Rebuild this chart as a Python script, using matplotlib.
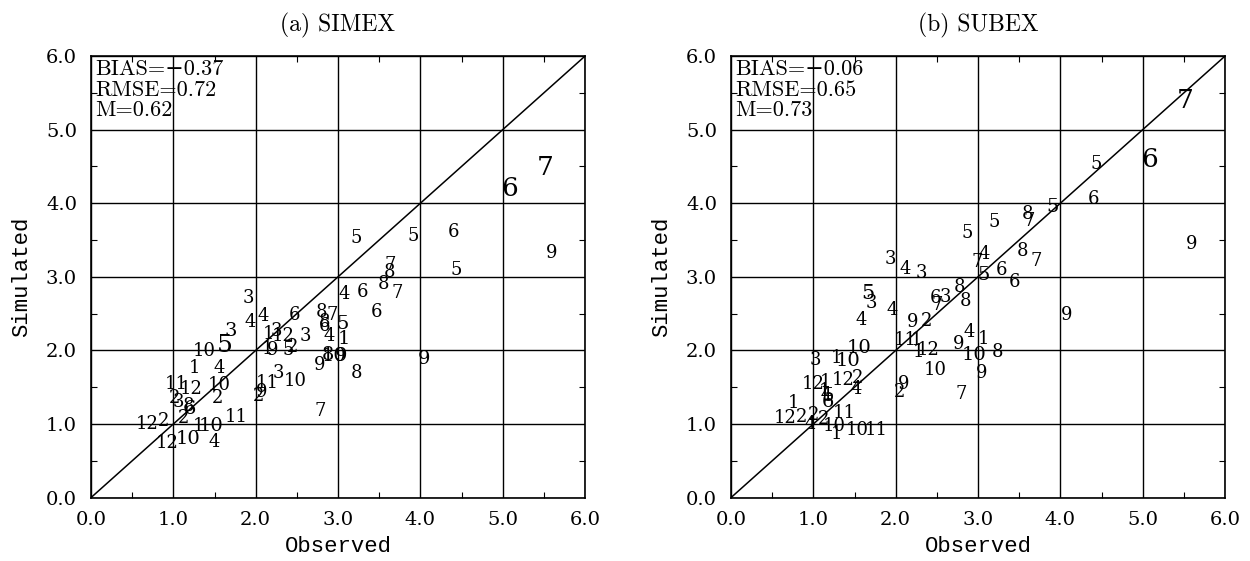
import matplotlib
matplotlib.use("Agg")
import matplotlib.pyplot as plt
from matplotlib.ticker import MultipleLocator, FormatStrFormatter

# ---------------- data ----------------
titles = ["(a) SIMEX", "(b) SUBEX"]
stats = [["BIAS=\u22120.37", "RMSE=0.72", "M=0.62"],
         ["BIAS=\u22120.06", "RMSE=0.65", "M=0.73"]]

simex_labels = ["10", "5", "3", "1", "4", "11", "12", "10", "2", "2", "3", "8", "6",
                "12", "2", "2", "1", "10", "11", "12", "10", "4",
                "3", "4", "4", "6", "8", "7", "5", "1", "4", "6", "8", "3",
                "1", "3", "12", "1", "9", "5", "2",
                "9", "8", "10", "9", "8", "3", "11", "10", "9", "2", "7", "9",
                "4", "6", "6", "8", "7", "7", "8",
                "5", "5", "6", "5", "9", "6", "7"]
simex_x = [1.38, 1.63, 1.70, 1.26, 1.56, 1.04, 1.22, 1.56, 1.54, 1.02, 1.06, 1.18, 1.20,
           0.68, 0.88, 1.12, 1.30, 1.46, 1.76, 0.92, 1.18, 1.50,
           1.91, 2.09, 1.93, 2.47, 2.80, 2.93, 3.06, 3.07, 2.89, 2.84, 2.84, 2.60,
           2.15, 2.25, 2.33, 2.14, 2.20, 2.40, 2.45,
           2.78, 2.88, 2.95, 3.04, 3.23, 2.28, 2.14, 2.48, 2.07, 2.03, 2.78, 4.05,
           3.08, 3.30, 3.47, 3.55, 3.72, 3.63, 3.63,
           3.22, 3.91, 4.40, 4.44, 5.60, 5.09, 5.52]
simex_y = [1.99, 2.07, 2.27, 1.76, 1.76, 1.55, 1.48, 1.53, 1.36, 1.36, 1.30, 1.25, 1.20,
           1.00, 1.04, 1.08, 0.97, 0.97, 1.10, 0.74, 0.79, 0.76,
           2.71, 2.47, 2.38, 2.48, 2.52, 2.48, 2.36, 2.16, 2.20, 2.33, 2.38, 2.20,
           2.22, 2.27, 2.20, 2.02, 2.00, 2.00, 2.05,
           1.80, 1.94, 1.93, 1.93, 1.70, 1.70, 1.56, 1.58, 1.44, 1.38, 1.18, 1.88,
           2.77, 2.80, 2.52, 2.90, 2.78, 3.16, 3.07,
           3.53, 3.56, 3.61, 3.09, 3.32, 4.20, 4.49]
simex_size = [13, 18, 14, 13, 13, 13, 13, 13, 13, 13, 13, 13, 14,
              13, 13, 13, 13, 14, 13, 13, 14, 13,
              13, 13, 13, 13, 13, 13, 14, 14, 13, 13, 13, 13,
              13, 13, 13, 13, 13, 13, 13,
              13, 14, 14, 14, 13, 13, 13, 13, 13, 13, 13, 14,
              13, 13, 13, 13, 13, 13, 13,
              13, 13, 13, 13, 13, 19, 19]

subex_labels = ["7", "6", "5", "6", "5", "8", "7", "5", "5", "8", "7", "4", "7", "5",
                "6", "6", "8", "8", "3", "6", "7", "9", "9",
                "3", "4", "3", "5", "3", "4", "4", "9", "2", "11", "1", "1", "12",
                "9", "4", "1", "10", "8", "10", "9", "9", "2", "7",
                "10", "3", "1", "10", "12", "1", "12", "2", "4",
                "1", "4", "5", "6", "1", "12", "2", "2", "4", "2",
                "11", "10", "1", "10", "11"]
subex_x = [5.52, 5.09, 4.43, 4.40, 3.90, 3.60, 3.62, 3.20, 2.87, 3.54, 3.71, 3.08, 2.99, 3.07,
           3.28, 3.44, 2.78, 2.85, 2.60, 2.48, 2.51, 5.60, 4.08,
           1.93, 2.11, 2.31, 1.66, 1.70, 1.96, 1.58, 2.20, 2.38, 2.12, 2.25, 2.28, 2.40,
           2.77, 2.89, 3.07, 2.95, 3.24, 2.48, 3.05, 2.10, 2.05, 2.80,
           1.56, 1.03, 1.28, 1.42, 1.00, 1.15, 1.36, 1.54, 1.52,
           1.14, 1.16, 1.18, 1.18, 0.76, 0.66, 0.86, 1.00, 0.96, 1.12,
           1.38, 1.26, 1.28, 1.53, 1.77]
subex_y = [5.39, 4.60, 4.53, 4.06, 3.95, 3.86, 3.76, 3.75, 3.60, 3.35, 3.22, 3.31, 3.20, 3.02,
           3.09, 2.93, 2.86, 2.67, 2.73, 2.71, 2.62, 3.45, 2.48,
           3.24, 3.10, 3.05, 2.77, 2.64, 2.55, 2.41, 2.38, 2.40, 2.14, 2.14, 1.98, 2.00,
           2.09, 2.25, 2.16, 1.94, 1.98, 1.73, 1.70, 1.55, 1.44, 1.41,
           2.03, 1.87, 1.90, 1.85, 1.55, 1.57, 1.60, 1.62, 1.48,
           1.45, 1.40, 1.38, 1.30, 1.28, 1.08, 1.10, 1.12, 1.00, 1.07,
           1.15, 0.97, 0.86, 0.92, 0.92]
subex_size = [19, 19, 13, 13, 14, 13, 13, 13, 13, 13, 13, 13, 13, 14,
              13, 13, 13, 13, 13, 13, 13, 13, 13,
              13, 13, 13, 15, 13, 13, 13, 13, 13, 13, 13, 13, 13,
              13, 13, 13, 14, 13, 13, 13, 13, 13, 13,
              14, 13, 13, 14, 13, 13, 13, 13, 13,
              13, 13, 13, 14, 13, 13, 13, 13, 13, 13,
              13, 13, 13, 13, 13]

panels = [(simex_labels, simex_x, simex_y, simex_size),
          (subex_labels, subex_x, subex_y, subex_size)]

# ---------------- figure ----------------
fig = plt.figure(figsize=(12.5, 5.61), dpi=100)
positions = [[0.0728, 0.113, 0.3952, 0.787], [0.5848, 0.113, 0.3952, 0.787]]

serif = ["DejaVu Serif"]
title_font = ["cmr10", "DejaVu Serif"]

for i, pos in enumerate(positions):
    ax = fig.add_axes(pos)
    labels, xs, ys, sizes = panels[i]
    ax.set_xlim(0, 6)
    ax.set_ylim(0, 6)
    ax.grid(True, which="major", color="black", linewidth=1.0)
    ax.set_axisbelow(True)
    ax.plot([0, 6], [0, 6], color="black", linewidth=1.1, zorder=2)
    for lab, x, y, s in zip(labels, xs, ys, sizes):
        ax.text(x, y, lab, ha="center", va="center", fontsize=s,
                family=serif, color="black", zorder=3)
    ax.xaxis.set_major_locator(MultipleLocator(1.0))
    ax.yaxis.set_major_locator(MultipleLocator(1.0))
    ax.xaxis.set_minor_locator(MultipleLocator(0.5))
    ax.yaxis.set_minor_locator(MultipleLocator(0.5))
    ax.xaxis.set_major_formatter(FormatStrFormatter("%.1f"))
    ax.yaxis.set_major_formatter(FormatStrFormatter("%.1f"))
    ax.tick_params(which="major", length=0, labelsize=14, pad=10)
    ax.tick_params(which="minor", direction="in", length=4, width=0.8,
                   top=True, right=True)
    for t in ax.get_xticklabels() + ax.get_yticklabels():
        t.set_family(serif)
    for sp in ax.spines.values():
        sp.set_linewidth(1.2)
    ax.set_xlabel("Observed", family=["Liberation Mono"], fontsize=16, labelpad=5)
    ax.set_ylabel("Simulated", family=["Liberation Mono"], fontsize=16, labelpad=10)
    ax.set_title(titles[i], family=title_font, fontsize=17, pad=18)
    ax.text(0.05, 5.95, "\n".join(stats[i]), ha="left", va="top", fontsize=16,
            family=title_font, linespacing=1.05, zorder=4)

fig.savefig("out.png", dpi=100)
